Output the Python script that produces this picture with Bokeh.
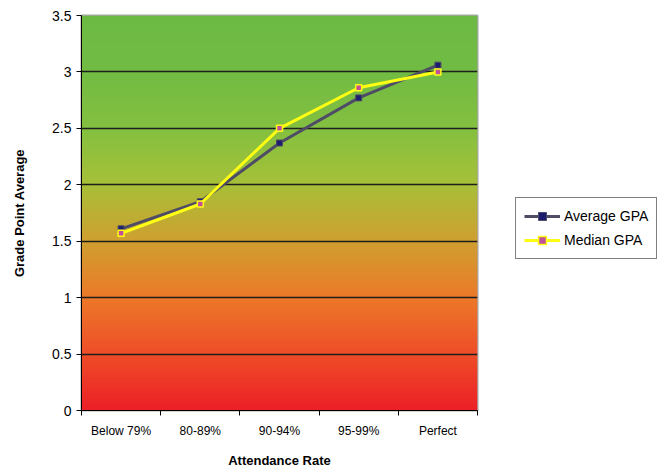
import numpy as np
from bokeh.plotting import figure
from bokeh.layouts import row
from bokeh.models import FixedTicker, Legend, LegendItem, ColumnDataSource
from bokeh.embed import file_html
from bokeh.resources import INLINE

categories = ["Below 79%", "80-89%", "90-94%", "95-99%", "Perfect"]
average_gpa = [1.61, 1.85, 2.37, 2.77, 3.06]
median_gpa = [1.57, 1.83, 2.50, 2.86, 3.00]
y_ticks = [0, 0.5, 1, 1.5, 2, 2.5, 3, 3.5]
y_tick_labels = ["0", "0.5", "1", "1.5", "2", "2.5", "3", "3.5"]
series_names = ["Average GPA", "Median GPA"]

# background gradient colour stops (value, colour)
grad_stops = [0.0, 0.5, 1.0, 1.5, 2.0, 2.5, 3.0, 3.5]
grad_colors = ["#EC2027", "#EF4E28", "#EC7A29", "#D0A030", "#A8C038",
               "#84C040", "#72BC44", "#6CBA45"]

FONT = "Liberation Sans"
AVG_LINE, AVG_FILL = "#4F4D66", "#1E1E6E"
MED_LINE, MED_FILL = "#FFFF14", "#C0509A"
n = len(categories)
xs = [i + 0.5 for i in range(n)]

p = figure(width=479, height=470, output_backend="svg", toolbar_location=None,
           x_range=(0, n), y_range=(0, 3.5),
           min_border_left=81, min_border_right=2, min_border_top=15,
           min_border_bottom=60)
p.background_fill_color = "white"
p.border_fill_color = "white"
p.outline_line_color = "#A6A6A6"
p.outline_line_width = 2

# gradient image
rows = 350
vals = np.linspace(0, 3.5, rows)
rgb = [tuple(int(c[i:i + 2], 16) for i in (1, 3, 5)) for c in grad_colors]
r = np.interp(vals, grad_stops, [c[0] for c in rgb])
g = np.interp(vals, grad_stops, [c[1] for c in rgb])
b = np.interp(vals, grad_stops, [c[2] for c in rgb])
img = np.zeros((rows, 1), dtype=np.uint32)
view = img.view(dtype=np.uint8).reshape((rows, 1, 4))
view[:, 0, 0] = r.astype(np.uint8)
view[:, 0, 1] = g.astype(np.uint8)
view[:, 0, 2] = b.astype(np.uint8)
view[:, 0, 3] = 255
p.image_rgba(image=[img], x=0, y=0, dw=n, dh=3.5, level="image")

# grid
p.xgrid.visible = False
p.ygrid.ticker = FixedTicker(ticks=y_ticks)
p.ygrid.grid_line_color = "#1E1E1E"
p.ygrid.grid_line_width = 1.3

# y axis
p.yaxis.ticker = FixedTicker(ticks=y_ticks)
p.yaxis.major_label_overrides = {t: l for t, l in zip(y_ticks, y_tick_labels)}
p.yaxis.axis_label = "Grade Point Average"
p.yaxis.axis_label_text_font = FONT
p.yaxis.axis_label_text_font_style = "bold"
p.yaxis.axis_label_text_font_size = "13px"
p.yaxis.axis_label_text_color = "black"
p.yaxis.axis_label_standoff = 22
p.yaxis.major_label_text_font = FONT
p.yaxis.major_label_text_font_size = "14px"
p.yaxis.major_label_text_color = "black"
p.yaxis.major_label_standoff = 5
p.yaxis.major_tick_out = 5
p.yaxis.major_tick_in = 0
p.yaxis.minor_tick_out = 0
p.yaxis.minor_tick_in = 0
p.yaxis.axis_line_color = "black"
p.yaxis.major_tick_line_color = "black"

# x axis
p.xaxis.ticker = FixedTicker(ticks=xs, minor_ticks=list(range(n + 1)))
p.xaxis.major_label_overrides = {x: c for x, c in zip(xs, categories)}
p.xaxis.axis_label = "Attendance Rate"
p.xaxis.axis_label_text_font = FONT
p.xaxis.axis_label_text_font_style = "bold"
p.xaxis.axis_label_text_font_size = "13px"
p.xaxis.axis_label_text_color = "black"
p.xaxis.axis_label_standoff = 12
p.xaxis.major_label_text_font = FONT
p.xaxis.major_label_text_font_size = "12px"
p.xaxis.major_label_text_color = "black"
p.xaxis.major_label_standoff = 8
p.xaxis.major_tick_out = 0
p.xaxis.major_tick_in = 0
p.xaxis.minor_tick_out = 5
p.xaxis.minor_tick_in = 0
p.xaxis.minor_tick_line_color = "black"
p.xaxis.axis_line_color = "black"

src = ColumnDataSource(dict(x=xs, avg=average_gpa, med=median_gpa))

p.line("x", "avg", source=src, line_color=AVG_LINE, line_width=3)
p.scatter("x", "avg", source=src, marker="square", size=6,
          fill_color=AVG_FILL, line_color=AVG_LINE, line_width=1)
p.line("x", "med", source=src, line_color=MED_LINE, line_width=3)
p.scatter("x", "med", source=src, marker="square", size=6,
          fill_color=MED_FILL, line_color=MED_LINE, line_width=1.5)

# legend panel (separate area right of the chart); its glyphs share the
# data but lie outside this panel's visible range, only the legend shows
q = figure(width=186, height=470, output_backend="svg", toolbar_location=None,
           x_axis_type=None, y_axis_type=None, x_range=(0, 1),
           y_range=(-20, -19), min_border=0)
q.outline_line_color = None
q.background_fill_color = "white"
q.border_fill_color = "white"
q.grid.visible = False
la = q.line("x", "avg", source=src, line_color=AVG_LINE, line_width=3)
ma = q.scatter("x", "avg", source=src, marker="square", size=6,
               fill_color=AVG_FILL, line_color=AVG_LINE, line_width=1)
lm = q.line("x", "med", source=src, line_color=MED_LINE, line_width=3)
mm = q.scatter("x", "med", source=src, marker="square", size=6,
               fill_color=MED_FILL, line_color=MED_LINE, line_width=1.5)

legend = Legend(items=[
    LegendItem(label=series_names[0], renderers=[la, ma]),
    LegendItem(label=series_names[1], renderers=[lm, mm]),
], location=(36, 151))
legend.label_text_font = FONT
legend.label_text_font_size = "14px"
legend.label_text_color = "black"
legend.glyph_width = 36
legend.glyph_height = 20
legend.label_standoff = 4
legend.spacing = 4
legend.padding = 8
legend.margin = 0
legend.border_line_color = "black"
legend.border_line_width = 1
legend.background_fill_color = "white"
legend.background_fill_alpha = 1
q.add_layout(legend, "center")

layout = row(p, q, spacing=0)
open("out.html", "w").write(file_html(layout, INLINE))
